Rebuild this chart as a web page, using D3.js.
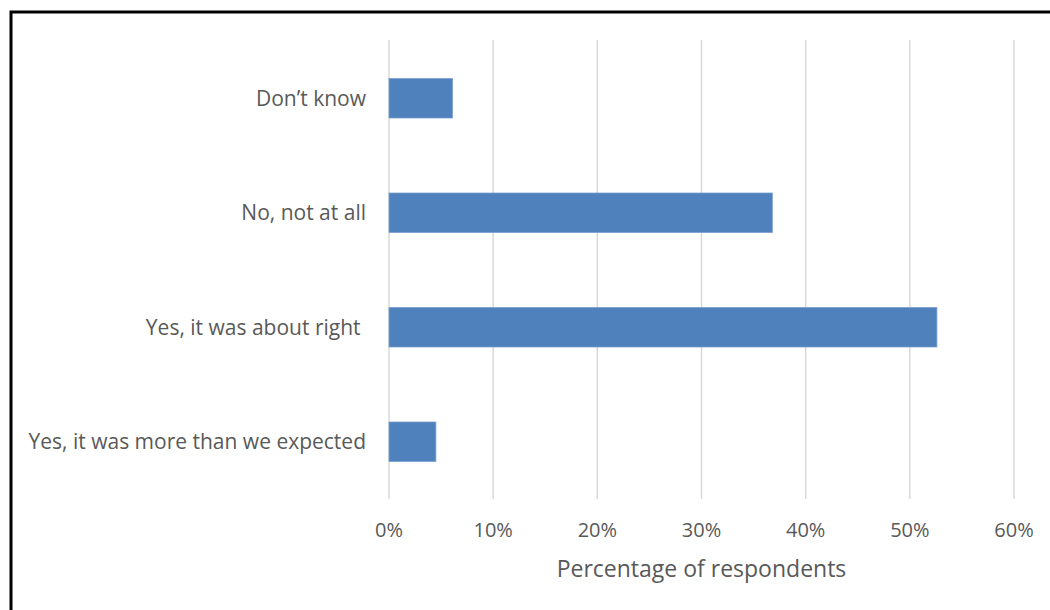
<!DOCTYPE html>
<html>
<head>
<meta charset="utf-8">
<script src="https://cdn.jsdelivr.net/npm/d3@7/dist/d3.min.js"></script>
<style>
  html, body { margin: 0; padding: 0; background: #fff; }
  svg { display: block; }
  text { font-family: "Open Sans", "Noto Sans", sans-serif; fill: #595959; white-space: pre; }
</style>
</head>
<body>
<svg id="chart" width="1050" height="610"></svg>
<script>
// Survey responses, top to bottom
const categories = ["Don\u2019t know", "No, not at all", "Yes, it was about right ", "Yes, it was more than we expected"];
const shares = [6.1, 36.8, 52.6, 4.5];
const tickValues = [0, 10, 20, 30, 40, 50, 60];
const axisTitle = "Percentage of respondents";

const svg = d3.select("#chart");

// outer frame (right and bottom edges run past the canvas)
svg.append("rect")
  .attr("x", 11).attr("y", 12)
  .attr("width", 1200).attr("height", 800)
  .attr("fill", "#fff")
  .attr("stroke", "#000")
  .attr("stroke-width", 3);

const plot = { left: 389, right: 1014, top: 41, bottom: 499 };

const x = d3.scaleLinear().domain([0, 60]).range([plot.left, plot.right]);
const y = d3.scaleBand().domain(categories)
  .range([plot.top, plot.bottom])
  .paddingInner(0.655).paddingOuter(0.3275);

// vertical gridlines
svg.append("g")
  .selectAll("line")
  .data(tickValues)
  .join("line")
  .attr("x1", d => x(d)).attr("x2", d => x(d))
  .attr("y1", plot.top - 1).attr("y2", plot.bottom)
  .attr("stroke", "#d9d9d9")
  .attr("stroke-width", 1.5);

// bars
svg.append("g")
  .selectAll("rect")
  .data(categories.map((c, i) => ({ c, v: shares[i] })))
  .join("rect")
  .attr("x", x(0))
  .attr("y", d => y(d.c))
  .attr("width", d => x(d.v) - x(0))
  .attr("height", y.bandwidth())
  .attr("fill", "#4f81bd")
  .attr("stroke", "#7c9fd0")
  .attr("stroke-width", 0.8);

// category labels
svg.append("g")
  .selectAll("text")
  .data(categories)
  .join("text")
  .attr("x", plot.left - 23)
  .attr("y", d => y(d) + y.bandwidth() / 2)
  .attr("dy", "0.36em")
  .attr("text-anchor", "end")
  .attr("font-size", 21)
  .text(d => d);

// x tick labels
svg.append("g")
  .selectAll("text")
  .data(tickValues)
  .join("text")
  .attr("x", d => x(d))
  .attr("y", 537)
  .attr("text-anchor", "middle")
  .attr("font-size", 20)
  .text(d => d3.format(".0%")(d / 100));

// axis title
svg.append("text")
  .attr("x", (plot.left + plot.right) / 2)
  .attr("y", 577)
  .attr("text-anchor", "middle")
  .attr("font-size", 23)
  .text(axisTitle);
</script>
</body>
</html>
